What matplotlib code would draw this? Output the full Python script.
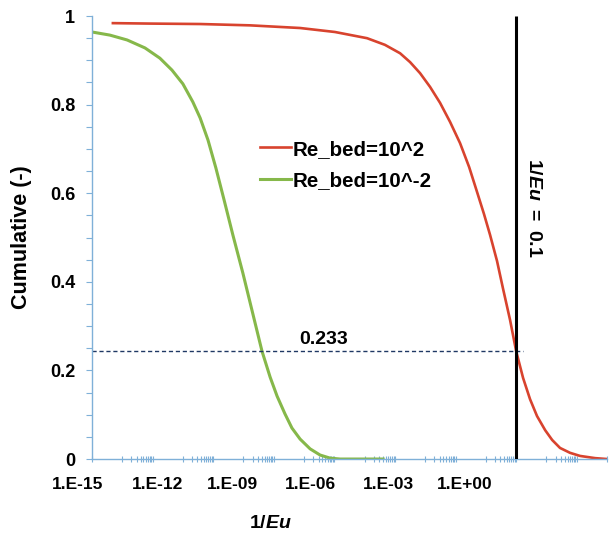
import numpy as np
import matplotlib.pyplot as plt
from matplotlib import transforms

plt.rcParams['font.family'] = ['Liberation Sans', 'DejaVu Sans']
plt.rcParams['font.weight'] = 'bold'
plt.rcParams['mathtext.fontset'] = 'custom'
plt.rcParams['mathtext.rm'] = 'Liberation Sans:bold'
plt.rcParams['mathtext.it'] = 'Liberation Sans:bold:italic'

# データ（log10(1/Eu), 累積値）
re_hi_logx = [-14.31, -13.09, -11.43, -9.78, -8.13, -6.98, -5.92, -5.33, -4.83, -4.50,
              -4.17, -3.84, -3.51, -3.18, -2.85, -2.55, -2.29, -2.06, -1.86, -1.63,
              -1.43, -1.20, -1.00, -0.77, -0.54, -0.31, -0.04, 0.19, 0.45, 0.78,
              1.11, 1.61, 2.00]
re_hi_cum = [0.984, 0.983, 0.982, 0.979, 0.973, 0.964, 0.950, 0.935, 0.916, 0.896,
             0.871, 0.840, 0.804, 0.761, 0.713, 0.659, 0.603, 0.553, 0.506, 0.447,
             0.384, 0.314, 0.244, 0.183, 0.135, 0.097, 0.065, 0.043, 0.025, 0.014,
             0.007, 0.002, 0.0]

re_lo_logx = [-15.0, -14.41, -13.84, -13.25, -12.76, -12.36, -12.00, -11.67, -11.43, -11.17,
              -10.91, -10.64, -10.35, -10.02, -9.68, -9.39, -9.12, -8.89, -8.63, -8.40,
              -8.13, -7.80, -7.47, -7.14, -6.81, -5.39]
re_lo_cum = [0.964, 0.957, 0.946, 0.928, 0.905, 0.878, 0.847, 0.806, 0.770, 0.720,
             0.657, 0.585, 0.506, 0.420, 0.325, 0.244, 0.185, 0.142, 0.102, 0.070,
             0.045, 0.023, 0.009, 0.002, 0.0, 0.0]

series_names = ['Re_bed=10^2', 'Re_bed=10^-2']
x_tick_labels = ['1.E-15', '1.E-12', '1.E-09', '1.E-06', '1.E-03', '1.E+00']
y_tick_labels = ['0', '0.2', '0.4', '0.6', '0.8', '1']
y_ticks = [0, 0.2, 0.4, 0.6, 0.8, 1.0]
eu_inv = 0.1
cum_at_eu = 0.244
cum_text = '0.233'

# レイアウト用（ラベル位置は元図に合わせる）
x_label_pos_exp = [-15.46, -12.85, -10.35, -7.80, -5.23, -2.69]

axis_color = '#7fb0d8'
red = '#d8432e'
green = '#86b84a'

fig = plt.figure(figsize=(6.14, 5.35), dpi=100)
ax = fig.add_axes([0.1498, 0.142, 0.8388, 0.828])

ax.plot(10 ** np.array(re_hi_logx), re_hi_cum, color=red, lw=1.9, label=series_names[0])
ax.plot(10 ** np.array(re_lo_logx), re_lo_cum, color=green, lw=2.2, label=series_names[1])

ax.hlines(cum_at_eu, 1e-15, 0.17, colors='#1f3864', linestyles=(0, (3, 2)), lw=1.0)
ax.vlines(eu_inv, 0, 1.0, colors='black', lw=2.2, zorder=5)

ax.set_xscale('log')

# 目盛り（Excel風：主目盛り2桁ごと、副目盛りはその後半の桁）
major = [10.0 ** e for e in range(-15, 3, 2)]
minor = [k * 10.0 ** e for e in range(-14, 3, 2) for k in range(1, 10)]
ax.set_xticks(major)
ax.set_xticks(minor, minor=True)
ax.set_xticklabels([])
ax.xaxis.set_minor_formatter(plt.NullFormatter())
ax.tick_params(axis='x', which='both', direction='inout', length=5, width=0.8, colors=axis_color)

ax.set_yticks(y_ticks)
ax.set_yticklabels(y_tick_labels)
ax.set_yticks(np.arange(0, 1.001, 0.05), minor=True)
ax.tick_params(axis='y', which='both', direction='out', length=4, width=0.8, colors=axis_color,
               labelcolor='black', labelsize=13, pad=8)

ax.set_xlim(1e-15, 1e2)
ax.set_ylim(0, 1.0)

for s in ['top', 'right']:
    ax.spines[s].set_visible(False)
for s in ['left', 'bottom']:
    ax.spines[s].set_color(axis_color)
    ax.spines[s].set_linewidth(1.0)

trans = transforms.blended_transform_factory(ax.transData, ax.transAxes)
for e, lab in zip(x_label_pos_exp, x_tick_labels):
    ax.text(10 ** e, -0.057, lab, transform=trans, ha='center', va='center',
            fontsize=12.5, fontweight='bold', clip_on=False)

ax.text(0.347, -0.145, r'$\mathrm{1/}\mathit{Eu}$', transform=ax.transAxes,
        ha='center', va='center', fontsize=14)
ax.text(-0.136, 0.5, 'Cumulative (-)', transform=ax.transAxes, rotation=90,
        ha='center', va='center', fontsize=15.5, fontweight='bold')

ax.text(10 ** -7.37, 0.269, cum_text, ha='center', va='center',
        fontsize=14, fontweight='bold')
ax.text(eu_inv * 3.63, 0.567, r'$\mathrm{1/}\mathit{Eu}\mathrm{\ =\ 0.1}$', rotation=-90,
        ha='center', va='center', fontsize=14)

ax.legend(loc='upper left', bbox_to_anchor=(0.326, 0.721), frameon=False, fontsize=14.8,
          handlelength=1.5, handletextpad=0.1, labelspacing=0.6, borderaxespad=0,
          borderpad=0)

plt.savefig('out.png', dpi=100)
